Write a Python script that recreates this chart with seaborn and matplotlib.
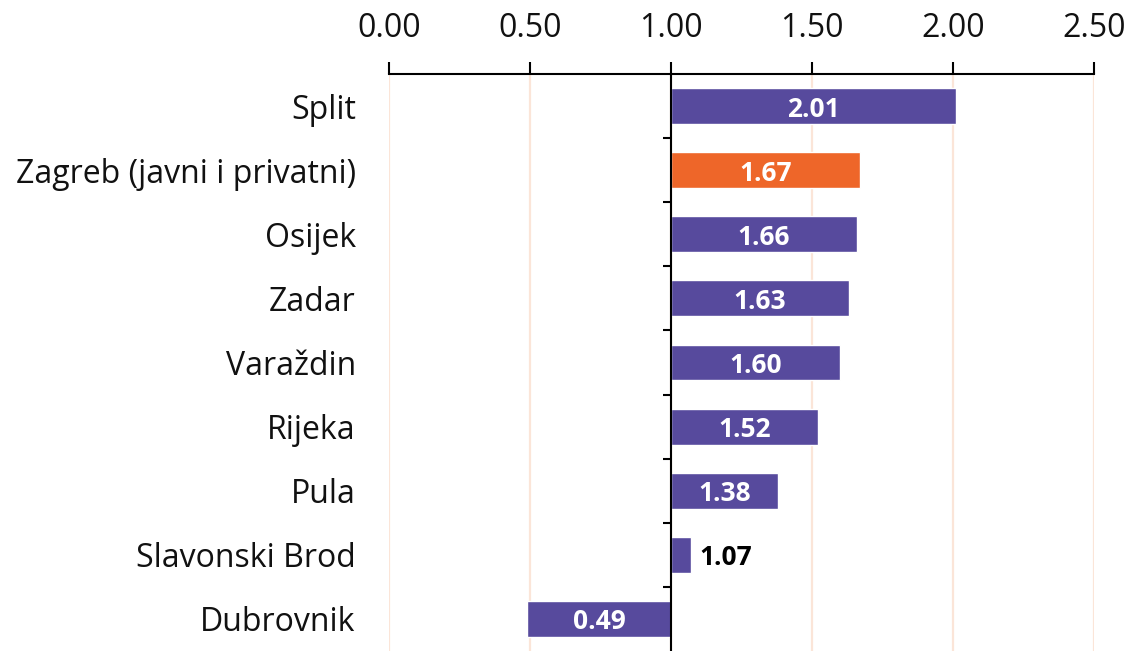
import numpy as np
import pandas as pd
import seaborn as sns
import matplotlib.pyplot as plt
import matplotlib.ticker as mticker
from matplotlib.transforms import blended_transform_factory

cities = ["Split", "Zagreb (javni i privatni)", "Osijek", "Zadar", "Varaždin",
          "Rijeka", "Pula", "Slavonski Brod", "Dubrovnik"]
values = [2.01, 1.67, 1.66, 1.63, 1.60, 1.52, 1.38, 1.07, 0.49]
baseline = 1.0
x_ticks = [0.0, 0.5, 1.0, 1.5, 2.0, 2.5]

purple = "#574a9d"
orange = "#ee6629"

sns.set_theme(style="white")
plt.rcParams["font.family"] = ["Open Sans", "DejaVu Sans"]

df = pd.DataFrame({"city": cities, "value": values})
df["delta"] = df["value"] - baseline
colors = {c: (orange if c.startswith("Zagreb") else purple) for c in cities}

fig = plt.figure(figsize=(11.33, 6.51), dpi=100)
ax = fig.add_axes([389 / 1133, 0.0, 705 / 1133, 1 - 74 / 651])

sns.barplot(data=df, x="delta", y="city", hue="city", palette=colors,
            orient="h", width=0.56, legend=False, ax=ax, saturation=1)

# x axis shown on top, shifted so bars start at 1.00
ax.set_xlim(x_ticks[0] - baseline, x_ticks[-1] - baseline)
ax.set_ylim(len(cities) - 0.5, -0.5)
ax.xaxis.tick_top()
ax.set_xticks([t - baseline for t in x_ticks])
ax.xaxis.set_major_formatter(mticker.FuncFormatter(lambda v, p: f"{v + baseline:.2f}"))
ax.tick_params(axis="x", which="major", direction="out", length=9, width=1.5,
               color="black", labelsize=23, pad=12, labelcolor="#111111")
ax.set_xlabel("")
ax.set_ylabel("")

ax.grid(axis="x", color="#fbe5d8", linewidth=1.6)
ax.grid(axis="y", visible=False)
ax.set_axisbelow(True)

for s in ["right", "bottom"]:
    ax.spines[s].set_visible(False)
ax.spines["top"].set_linewidth(1.5)
ax.spines["top"].set_color("black")
ax.spines["left"].set_position(("data", 0))
ax.spines["left"].set_linewidth(1.5)
ax.spines["left"].set_color("black")
ax.spines["left"].set_zorder(5)

# category names on the left, boundary ticks on the baseline spine
ax.set_yticks(range(len(cities)))
ax.set_yticklabels([""] * len(cities))
ax.tick_params(axis="y", which="major", length=0)
ax.yaxis.set_minor_locator(mticker.FixedLocator(np.arange(0.5, len(cities) - 1, 1)))
ax.tick_params(axis="y", which="minor", left=True, direction="out", length=6,
               width=1.5, color="black")

trans = blended_transform_factory(ax.transAxes, ax.transData)
for i, c in enumerate(cities):
    ax.text(-0.047, i, c, transform=trans, ha="right", va="center_baseline",
            fontsize=23, color="#111111")

for i, (v, d) in enumerate(zip(values, df["delta"])):
    if abs(d) < 0.15:
        ax.text(d + 0.03, i, f"{v:.2f}", ha="left", va="center_baseline",
                fontsize=19, fontweight="bold", color="black")
    else:
        ax.text(d / 2, i, f"{v:.2f}", ha="center", va="center_baseline",
                fontsize=19, fontweight="bold", color="white")

fig.savefig("out.png", dpi=100)
